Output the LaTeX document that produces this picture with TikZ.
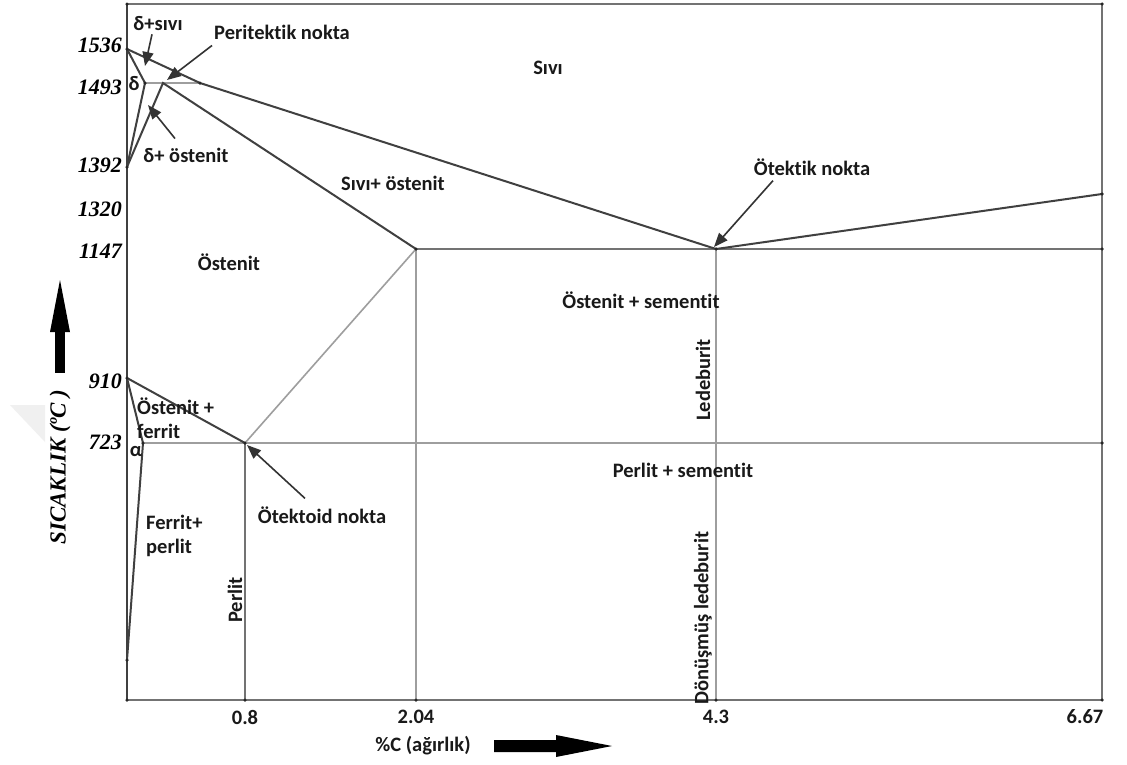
\documentclass[tikz,border=0pt]{standalone}
\usepackage{fontspec}
\setmainfont[Ligatures=NoCommon]{Carlito}
\newfontfamily\tnr{Liberation Serif}
\usetikzlibrary{arrows.meta}
\begin{document}
\begin{tikzpicture}[x=1pt,y=-1pt,
  dk/.style={draw=black!75, line width=2pt},
  md/.style={draw=black!55, line width=2pt},
  lt/.style={draw=black!38, line width=1.6pt},
  frm/.style={draw=black!55, line width=2.4pt},
  lbl/.style={font=\fontsize{20.5}{24}\selectfont\bfseries, inner sep=0pt, text=black!90},
  num/.style={font=\tnr\fontsize{22}{24}\selectfont\bfseries\itshape, anchor=east, inner sep=0pt},
  callout/.style={draw=black!80, line width=1.6pt, -{Triangle[length=14pt,width=11pt]}},
  pt/.style={circle, fill=black!85, inner sep=0pt, minimum size=3.5pt}]
\useasboundingbox (0,0) rectangle (1127,764);
\fill[white] (0,0) rectangle (1127,764);
% faint watermark
\fill[black!6] (10,405) -- (45,405) -- (45,442) -- cycle;

% coordinates
\coordinate (O) at (127,700);
\coordinate (TL) at (127,4);
\coordinate (TR) at (1102,4);
\coordinate (BR) at (1102,700);
\coordinate (A) at (127,49);
\coordinate (N) at (145,83);
\coordinate (H) at (163,83);
\coordinate (B) at (200,83);
\coordinate (Nn) at (127,167);
\coordinate (E) at (416,249);
\coordinate (C) at (716,249);
\coordinate (D) at (1102,194);
\coordinate (F) at (1102,249);
\coordinate (G) at (127,378);
\coordinate (P) at (143,443);
\coordinate (S) at (245,443);
\coordinate (K) at (1102,443);
\coordinate (Q) at (127,660);
\coordinate (X1) at (245,700);
\coordinate (X2) at (416,700);
\coordinate (X3) at (716,700);

% frame
\draw[frm] (TL) -- (TR) -- (BR) -- (O);
\draw[dk] (O) -- (TL);

% light lines
\draw[lt] (N) -- (B);
\draw[lt] (S) -- (E);
\draw[lt] (E) -- (X2);
\draw[lt] (C) -- (X3);
\draw[lt] (P) -- (K);
\draw[md] (E) -- (C) -- (F);
\draw[md] (S) -- (X1);

% dark lines
\draw[dk] (A) -- (B) -- (C) -- (D);
\draw[dk] (A) -- (N) -- (Nn);
\draw[dk] (Nn) -- (H) -- (E);
\draw[dk] (G) -- (S);
\draw[dk] (G) -- (P) -- (Q);

% points
\foreach \p in {A,N,B,Nn,E,C,D,F,G,P,S,K,Q,O,X1,X2,X3,TR,TL,BR}
  \node[pt] at (\p) {};

% temperature labels
\node[num] (t1536) at (122,45) {1536};
\node[num] (t1493) at (122,87) {1493};
\node[num] (t1392) at (122,165) {1392};
\node[num] (t1320) at (122,209) {1320};
\node[num] (t1147) at (122,251) {1147};
\node[num] (t910) at (122,381) {910};
\node[num] (t723) at (122,442) {723};

% composition labels
\node[lbl] (c08) at (245,717) {0.8};
\node[lbl] (c204) at (416,717) {2.04};
\node[lbl] (c43) at (716,717) {4.3};
\node[lbl] (c667) at (1085,717) {6.67};

% axis titles
\node[lbl] (xt) at (423,746) {\%C (ağırlık)};
\fill (494,740) -- (556,740) -- (556,735) -- (612,746) -- (556,757) -- (556,752) -- (494,752) -- cycle;
\node[num, anchor=center, rotate=90, font=\tnr\fontsize{23}{25}\selectfont\bfseries\itshape] (yt) at (60,467) {SICAKLIK (ºC )};
\fill (55,373) rectangle (65,330);
\fill (50,332) -- (70,332) -- (60,280) -- cycle;

% region labels
\node[lbl] (ds) at (158,24) {δ+sıvı};
\node[lbl] (pn) at (282,32) {Peritektik nokta};
\node[lbl] (dl) at (134,84) {δ};
\node[lbl] (do) at (186,155) {δ+ östenit};
\node[lbl] (sv) at (548,68) {Sıvı};
\node[lbl] (so) at (393,183) {Sıvı+ östenit};
\node[lbl] (os) at (229,262) {Östenit};
\node[lbl] (on) at (812,167) {Ötektik nokta};
\node[lbl] (ose) at (641,300) {Östenit + sementit};
\node[lbl, rotate=90] (led) at (703,380) {Ledeburit};
\node[lbl] (pse) at (683,470) {Perlit + sementit};
\node[lbl, rotate=90] (dled) at (703,618) {Dönüşmüş ledeburit};
\node[lbl, rotate=90] (per) at (235,600) {Perlit};
\node[lbl, anchor=west, align=left] (of) at (137,418) {Östenit +\\ferrit};
\node[lbl] (al) at (136,452) {α};
\node[lbl] (otn) at (322,515) {Ötektoid nokta};
\node[lbl, anchor=west, align=left] (fp) at (146,536) {Ferrit+\\perlit};

% callout arrows
\coordinate (a1) at (145,66);
\coordinate (a2) at (167,80);
\coordinate (a3) at (148,105);
\coordinate (a4) at (714,247);
\coordinate (a5) at (247,445);
\draw[callout] ([xshift=-6pt,yshift=-3pt]ds.south) -- (a1);
\draw[callout] ([xshift=-2pt,yshift=-6pt]pn.south west) -- (a2);
\draw[callout] ([xshift=-11pt,yshift=9pt]do.north) -- (a3);
\draw[callout] ([xshift=-39pt,yshift=-5pt]on.south) -- (a4);
\draw[callout] ([xshift=-17pt,yshift=8pt]otn.north) -- (a5);
\end{tikzpicture}
\end{document}
